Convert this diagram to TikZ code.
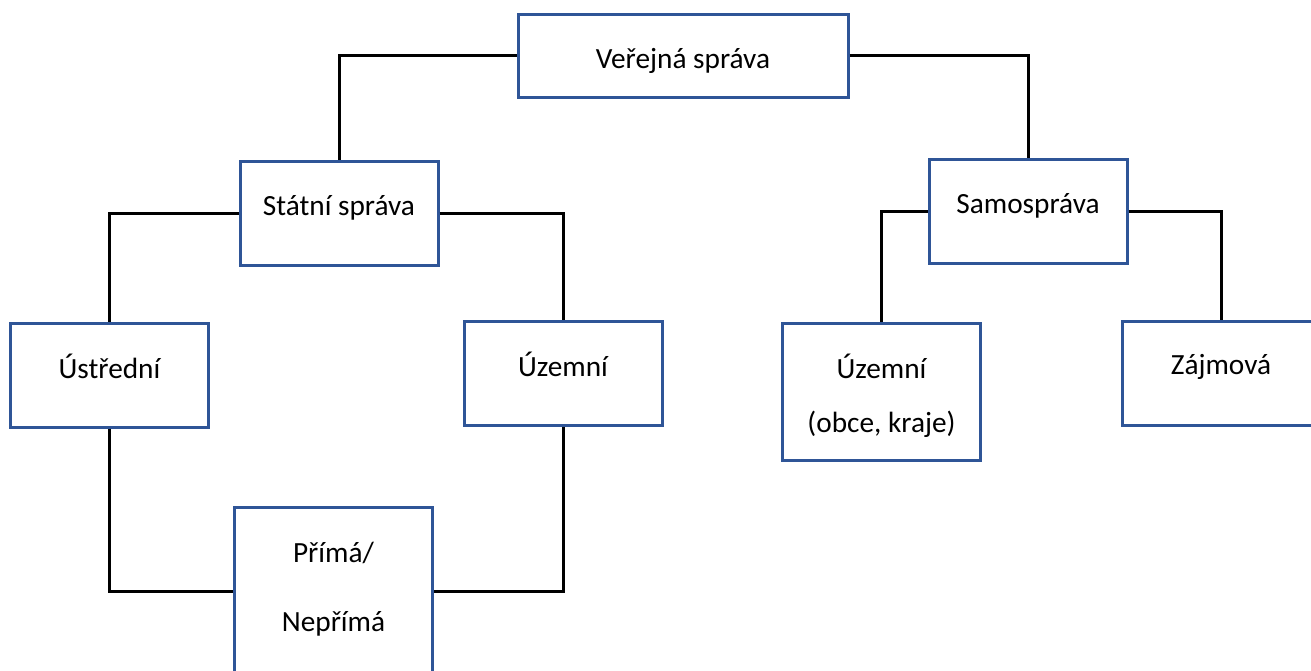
\documentclass[tikz,border=0pt]{standalone}
\usepackage{fontspec}
\setmainfont{Carlito}
\definecolor{boxblue}{RGB}{47,85,151}
\tikzset{
  box/.style={draw=boxblue, line width=3pt, fill=white, rectangle, inner sep=0pt, minimum width=198pt, minimum height=104pt},
  txt/.style={anchor=base, inner sep=0pt, font=\fontsize{29.3}{35}\selectfont, text=black},
  conn/.style={draw=black, line width=3pt}
}
\begin{document}
\begin{tikzpicture}[x=1pt,y=-1pt]
\useasboundingbox (0,0) rectangle (1311,670);
\clip (0,0) rectangle (1311,670);
\fill[white] (0,0) rectangle (1311,670);
% boxes
\node[box, minimum width=330pt, minimum height=83pt] (ver) at (683,55.5) {};
\node[box] (stat) at (339,213) {};
\node[box] (samo) at (1028,211) {};
\node[box] (ustr) at (109.5,375) {};
\node[box] (uzem) at (563,373.5) {};
\node[box, minimum height=137pt] (obce) at (881.5,391.5) {};
\node[box] (zaj) at (1221,373.5) {};
\node[box, minimum height=168pt] (prima) at (333.5,591) {};
% connectors
\draw[conn] (ver.west) -| (stat.north);
\draw[conn] (ver.east) -| (samo.north);
\draw[conn] (stat.west) -| (ustr.north);
\draw[conn] (stat.east) -| (uzem.north);
\draw[conn] (ustr.south) |- (prima.west);
\draw[conn] (uzem.south) |- (prima.east);
\draw[conn] (samo.west) -| (obce.north);
\draw[conn] (samo.east) -| (zaj.north);
% texts
\node[txt] (tver) at (683,68) {Veřejná správa};
\node[txt] (tstat) at (339,215) {Státní správa};
\node[txt] (tsamo) at (1028,213) {Samospráva};
\node[txt] (tustr) at (109.5,378) {Ústřední};
\node[txt] (tuzem) at (563,376) {Územní};
\node[txt] (tobce1) at (881.5,378) {Územní};
\node[txt] (tobce2) at (881.5,432.5) {(obce, kraje)};
\node[txt] (tzaj) at (1221,374) {Zájmová};
\node[txt] (tprima1) at (333.5,562) {Přímá/};
\node[txt] (tprima2) at (333.5,631) {Nepřímá};
\end{tikzpicture}
\end{document}
